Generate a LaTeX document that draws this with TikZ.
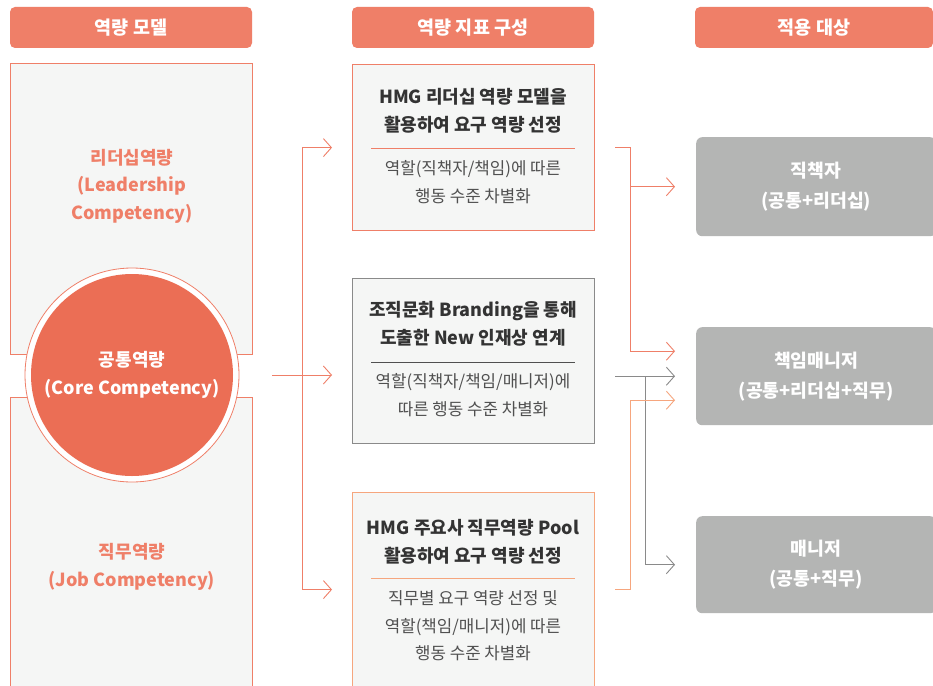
\documentclass[tikz,border=0pt]{standalone}
\usepackage{fontspec}
\setmainfont{Noto Sans CJK KR}
\usetikzlibrary{positioning,arrows.meta}
\definecolor{salmon}{HTML}{EF7F68}
\definecolor{coral}{HTML}{EB6E55}
\definecolor{peach}{HTML}{F6A67E}
\definecolor{paper}{HTML}{F5F6F5}
\definecolor{ash}{HTML}{B4B5B4}
\definecolor{slate}{HTML}{8A8A8A}
\definecolor{ink}{HTML}{333333}
\definecolor{inksoft}{HTML}{505050}
\tikzset{
headbox/.style = {fill=salmon, rounded corners=5pt, minimum width=#1, minimum height=41pt,
  inner sep=0pt, text=white, font=\fontsize{18.5}{22}\selectfont\bfseries},
headbox/.default = 242pt,
modelbox/.style = {draw=salmon, fill=paper, line width=1pt},
modeltext/.style = {align=center, text=salmon, font=\fontsize{18}{27.5}\selectfont\bfseries},
goalbox/.style = {draw=#1, fill=paper, line width=1.2pt, anchor=north west,
  minimum width=242pt, inner sep=0pt},
goaltitle/.style = {align=center, text=ink, font=\fontsize{18}{27.5}\selectfont\bfseries},
goalsub/.style = {align=center, text=inksoft, font=\fontsize{16.8}{27.5}\selectfont},
target/.style = {fill=ash, rounded corners=6pt, anchor=north west, minimum width=240pt,
  inner sep=0pt, text=white, align=center, font=\fontsize{18.3}{30}\selectfont\bfseries},
link/.style = {draw=#1, line width=0.9pt, -{Straight Barb[length=8pt,width=18pt]}},
link/.default = salmon
}
\begin{document}
\begin{tikzpicture}[x=1pt, y=-1pt]
\useasboundingbox (0,0) rectangle (933,685);
\clip (0,0) rectangle (933,685);
\fill[white] (0,0) rectangle (933,685);

% headers
\node[headbox] (headmodel) at (131,27.5) {역량 모델};
\node[headbox] (headgoal) at (473,27.5) {역량 지표 구성};
\node[headbox=238pt] (headtarget) at (814,27.5) {적용 대상};

% competency model
\draw[modelbox] (10,63) rectangle (252,354);
\draw[modelbox] (10,397) rectangle (252,700);
\node[circle, fill=white, draw=salmon, line width=0.8pt, minimum size=214pt] (corering) at (132,375) {};
\node[circle, fill=coral, minimum size=202pt, align=center, text=white,
  font=\fontsize{18}{28}\selectfont\bfseries] (core) at (132,375) {공통역량\\(Core Competency)};
\node[modeltext] (leader) at (132,186) {리더십역량\\(Leadership\\Competency)};
\node[modeltext] (job) at (132,567) {직무역량\\(Job Competency)};

% indicator boxes
\node[goalbox=salmon, minimum height=166pt] (goal1) at (352,64) {};
\node[goaltitle] (goal1title) at (473,111) {HMG 리더십 역량 모델을\\활용하여 요구 역량 선정};
\draw[salmon, line width=1pt] (371,148) -- (575,148);
\node[goalsub] (goal1sub) at (473,182) {역할(직책자/책임)에 따른\\행동 수준 차별화};

\node[goalbox=slate, minimum height=165pt] (goal2) at (352,278) {};
\node[goaltitle] (goal2title) at (473,324) {조직문화 Branding을 통해\\도출한 New 인재상 연계};
\draw[inksoft, line width=1pt] (371,362) -- (575,362);
\node[goalsub] (goal2sub) at (473,395) {역할(직책자/책임/매니저)에\\따른 행동 수준 차별화};

\node[goalbox=peach, minimum height=194pt] (goal3) at (352,492) {};
\node[goaltitle] (goal3title) at (473,542) {HMG 주요사 직무역량 Pool\\활용하여 요구 역량 선정};
\draw[peach, line width=1pt] (371,578) -- (575,578);
\node[goalsub] (goal3sub) at (473,626) {직무별 요구 역량 선정 및\\역할(책임/매니저)에 따른\\행동 수준 차별화};

% targets
\node[target, minimum height=99pt] (lead) at (696,137) {직책자\\(공통+리더십)};
\node[target, minimum height=98pt] (mgr2) at (696,327) {책임매니저\\(공통+리더십+직무)};
\node[target, minimum height=97pt] (mgr) at (696,516) {매니저\\(공통+직무)};

% connectors left
\draw[link] ([xshift=33pt]corering.east) -- ([xshift=-20pt]goal2.west |- corering.east);
\draw[link, {Straight Barb[length=8pt,width=18pt]}-{Straight Barb[length=8pt,width=18pt]}]
  ([xshift=-20pt]goal1.west) -- ++(-30,0) |- ([xshift=-20pt]goal3.west);

% connectors right
\draw[link] ([xshift=20pt]goal1.east) -- ++(15,0) |- ([xshift=-21pt,yshift=25pt]mgr2.west);
\draw[link] ([xshift=35pt]goal1.east |- lead.west) -- ([xshift=-21pt]lead.west);
\draw[link=slate] ([xshift=20pt]goal2.east |- mgr2.west) -- ([xshift=-21pt]mgr2.west);
\draw[link=slate] ([xshift=50pt]goal2.east |- mgr2.west) |- ([xshift=-21pt]mgr.west);
\draw[link=peach] ([xshift=20pt]goal3.east) -- ++(15,0) |- ([xshift=-21pt,yshift=-24pt]mgr2.west);
\end{tikzpicture}
\end{document}
